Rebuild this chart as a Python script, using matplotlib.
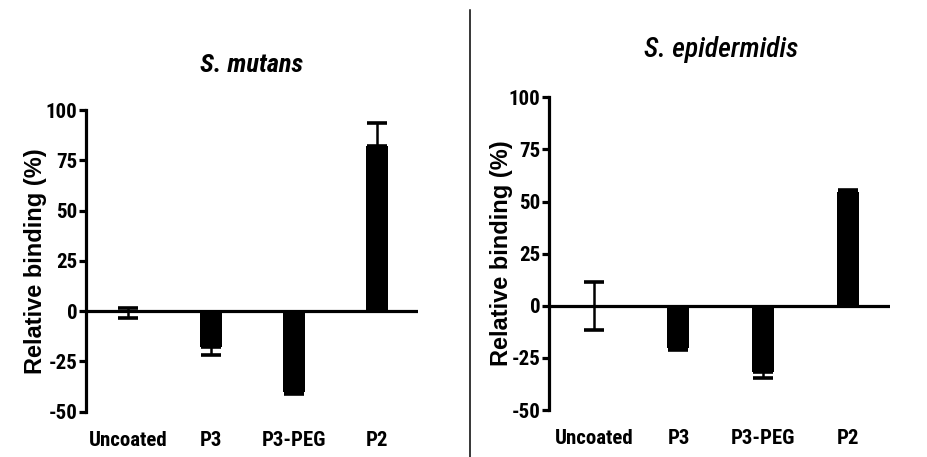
import numpy as np
import matplotlib
matplotlib.use("Agg")
import matplotlib.pyplot as plt
from matplotlib.lines import Line2D

# data
categories = ["Uncoated", "P3", "P3-PEG", "P2"]

mutans_mean = [-1, -18, -40, 82]
mutans_err = [2.5, 4, 1, 11.5]

epid_mean = [0, -20.3, -31.8, 54.5]
epid_err = [11.5, 1, 3, 1]

yticks = [-50, -25, 0, 25, 50, 75, 100]

narrow = ["Roboto Condensed", "DejaVu Sans"]
wide = ["Liberation Sans", "DejaVu Sans"]


def panel(ax, means, errs, xlim, labelx):
    x = np.arange(len(categories))
    ax.bar(x, means, width=0.26, color="black", zorder=2)
    # one-sided bars, except where the mean sits at zero
    lo = [e if (m < 0 or abs(m) < 2) else 0 for m, e in zip(means, errs)]
    hi = [e if (m > 0 or abs(m) < 2) else 0 for m, e in zip(means, errs)]
    ax.errorbar(x, means, yerr=[lo, hi], fmt="none", ecolor="black",
                elinewidth=1.8, capsize=7, capthick=2.6, zorder=3)
    ax.axhline(0, color="black", lw=2.3, zorder=4)

    ax.set_xlim(xlim)
    ax.set_ylim(-50, 100)
    ax.set_yticks(yticks)
    ax.set_yticklabels([str(t) for t in yticks], family=narrow,
                       fontweight="bold", fontsize=15)
    ax.set_xticks(x)
    ax.set_xticklabels(categories, family=narrow, fontweight="bold",
                       fontsize=15)
    ax.tick_params(axis="x", length=0, pad=14)
    ax.tick_params(axis="y", length=5, width=2.3, pad=1, direction="out")

    for s in ["top", "right", "bottom"]:
        ax.spines[s].set_visible(False)
    ax.spines["left"].set_linewidth(2.3)

    ax.set_ylabel("Relative binding (%)", family=wide, fontweight="bold",
                  fontsize=17)
    ax.yaxis.set_label_coords(labelx, 0.5)


fig = plt.figure(figsize=(9.27, 4.57), dpi=100)
fig.patch.set_facecolor("white")

ax1 = fig.add_axes([86 / 927, 1 - 411.7 / 457, 332 / 927, 301.7 / 457])
panel(ax1, mutans_mean, mutans_err, (-0.506, 3.49), -0.118)

ax2 = fig.add_axes([549 / 927, 1 - 410 / 457, 341 / 927, 312.7 / 457])
panel(ax2, epid_mean, epid_err, (-0.53, 3.5), -0.105)

fig.text(252 / 927, 1 - 72 / 457, "S. mutans", family=narrow,
         fontweight="bold", fontstyle="italic", fontsize=19,
         ha="center", va="baseline")
fig.text(721 / 927, 1 - 57 / 457, "S. epidermidis", family=narrow,
         fontweight="medium", fontstyle="italic", fontsize=20,
         ha="center", va="baseline")

# divider between the two panels
fig.add_artist(Line2D([470 / 927, 470 / 927], [0, 1 - 10 / 457],
                      transform=fig.transFigure, color="black", lw=1.1))

fig.savefig("out.png", dpi=100)
